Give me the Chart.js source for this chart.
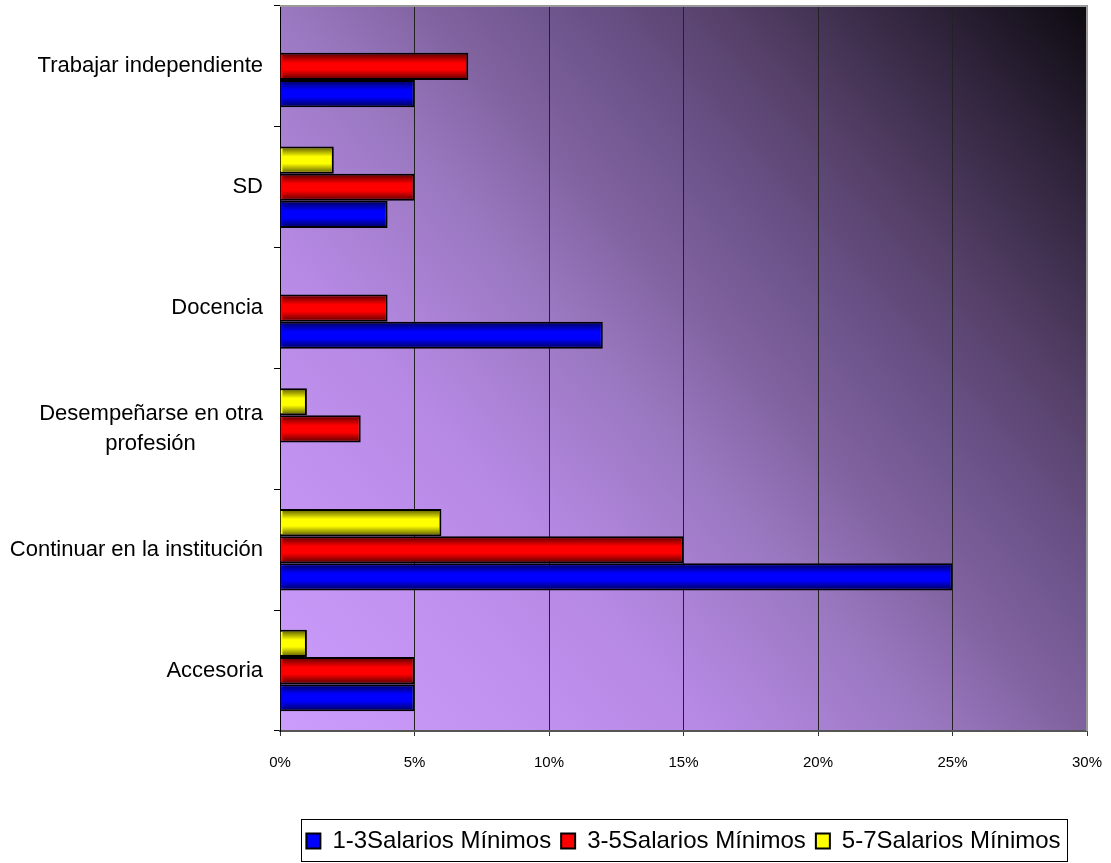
<!DOCTYPE html>
<html>
<head>
<meta charset="utf-8">
<script src="https://cdn.jsdelivr.net/npm/chart.js@4"></script>
<style>
  html, body { margin: 0; padding: 0; background: #fff; }
  canvas { display: block; }
</style>
</head>
<body>
<canvas id="chart" width="1111" height="863"></canvas>
<script>
// categories listed top to bottom as they appear on the chart
const categories = [
    'Trabajar independiente',
    'SD',
    'Docencia',
    ['Desempeñarse en otra', 'profesión           '],
    'Continuar en la institución',
    'Accesoria'
];
const seriesNames = ['1-3Salarios Mínimos', '3-5Salarios Mínimos', '5-7Salarios Mínimos'];
const salarios1a3 = [5, 4, 12, null, 25, 5];
const salarios3a5 = [7, 5, 4, 3, 15, 5];
const salarios5a7 = [null, 2, null, 1, 6, 1];
const xMax = 30;
const xStep = 5;

const FONT = "'Liberation Sans', Arial, Helvetica, sans-serif";

// --- plot background: diagonal purple gradient + grey frame ---
const plotBackground = {
    id: 'plotBackground',
    beforeDraw(chart) {
        const { ctx, chartArea: a } = chart;
        const g = ctx.createLinearGradient(a.left, a.bottom, a.right, a.top);
        g.addColorStop(0, '#cb9cfb');
        g.addColorStop(0.15, '#c393f2');
        g.addColorStop(0.3, '#b689e4');
        g.addColorStop(0.45, '#9a78c0');
        g.addColorStop(0.55, '#80629f');
        g.addColorStop(0.65, '#6a5288');
        g.addColorStop(0.75, '#554068');
        g.addColorStop(0.88, '#30243c');
        g.addColorStop(1, '#0d0a10');
        ctx.save();
        ctx.fillStyle = g;
        ctx.fillRect(a.left, a.top, a.width, a.height);
        ctx.restore();
    },
    beforeDatasetsDraw(chart) {
        const { ctx, chartArea: a } = chart;
        ctx.save();
        ctx.strokeStyle = '#999';
        ctx.lineWidth = 2;
        ctx.beginPath();
        ctx.moveTo(a.left, a.top);
        ctx.lineTo(a.right, a.top);
        ctx.lineTo(a.right, a.bottom);
        ctx.stroke();
        ctx.restore();
    }
};

// --- 3D-ish shading on each bar (dark edges, bright middle) ---
const barShading = {
    id: 'barShading',
    afterDatasetsDraw(chart) {
        const ctx = chart.ctx;
        chart.data.datasets.forEach((ds, i) => {
            const meta = chart.getDatasetMeta(i);
            meta.data.forEach((el, j) => {
                if (ds.data[j] == null || ds.data[j] === 0) return;
                const p = el.getProps(['x', 'y', 'base', 'height']);
                const bw = ds.borderWidth;
                const left = Math.min(p.x, p.base) + bw;
                const right = Math.max(p.x, p.base) - bw;
                const top = p.y - p.height / 2 + bw;
                const bottom = p.y + p.height / 2 - bw;
                if (right <= left) return;
                const g = ctx.createLinearGradient(0, top, 0, bottom);
                g.addColorStop(0, 'rgba(0,0,0,0.55)');
                g.addColorStop(0.35, 'rgba(0,0,0,0)');
                g.addColorStop(0.65, 'rgba(0,0,0,0)');
                g.addColorStop(1, 'rgba(0,0,0,0.55)');
                ctx.save();
                ctx.fillStyle = g;
                ctx.fillRect(left, top, right - left, bottom - top);
                ctx.restore();
            });
        });
    }
};

// --- frame round the legend ---
const legendFrame = {
    id: 'legendFrame',
    afterDraw(chart) {
        const lg = chart.legend;
        if (!lg || !lg.legendHitBoxes || !lg.legendHitBoxes.length) return;
        const boxes = lg.legendHitBoxes;
        const left = Math.min(...boxes.map(b => b.left)) - 5;
        const right = Math.max(...boxes.map(b => b.left + b.width)) + 7;
        const ctx = chart.ctx;
        ctx.save();
        ctx.strokeStyle = '#000';
        ctx.lineWidth = 1;
        ctx.strokeRect(Math.round(left) + 0.5, Math.round(lg.top) + 0.5,
            Math.round(right - left), Math.round(lg.bottom - lg.top) - 2);
        ctx.restore();
    }
};

function noScalePadding(scale) {
    scale.paddingTop = 0;
    scale.paddingBottom = 0;
    scale.paddingLeft = 0;
    scale.paddingRight = 0;
}

new Chart(document.getElementById('chart'), {
    type: 'bar',
    data: {
        labels: categories,
        // drawn top-to-bottom inside each category: yellow, red, blue
        datasets: [
            { label: seriesNames[2], data: salarios5a7, backgroundColor: '#ffff00', borderColor: '#000', borderWidth: 2 },
            { label: seriesNames[1], data: salarios3a5, backgroundColor: '#ff0000', borderColor: '#000', borderWidth: 2 },
            { label: seriesNames[0], data: salarios1a3, backgroundColor: '#0000ff', borderColor: '#000', borderWidth: 2 }
        ]
    },
    options: {
        indexAxis: 'y',
        responsive: false,
        animation: false,
        devicePixelRatio: 1,
        categoryPercentage: 0.675,
        barPercentage: 1,
        layout: { padding: { top: 6, right: 24, bottom: 0, left: 0 } },
        scales: {
            x: {
                min: 0,
                max: xMax,
                afterFit(scale) { noScalePadding(scale); scale.height = 88; },
                ticks: {
                    stepSize: xStep,
                    padding: 18,
                    color: '#000',
                    font: { family: FONT, size: 15 },
                    callback: v => v + '%'
                },
                grid: { color: '#222', lineWidth: 1, tickLength: 5, tickColor: '#333' },
                border: { color: '#555', width: 2 }
            },
            y: {
                afterFit(scale) { noScalePadding(scale); scale.width = 280; },
                ticks: {
                    padding: 11,
                    color: '#000',
                    font: { family: FONT, size: 22, lineHeight: 1.4 }
                },
                grid: { drawOnChartArea: false, tickLength: 6, tickColor: '#000', offset: true },
                border: { color: '#000', width: 1 }
            }
        },
        plugins: {
            legend: {
                position: 'bottom',
                fullSize: false,
                reverse: true,
                labels: {
                    color: '#000',
                    font: { family: FONT, size: 24 },
                    boxWidth: 14,
                    boxHeight: 15,
                    padding: 10
                }
            },
            tooltip: { enabled: false }
        }
    },
    plugins: [plotBackground, barShading, legendFrame]
});
</script>
</body>
</html>
